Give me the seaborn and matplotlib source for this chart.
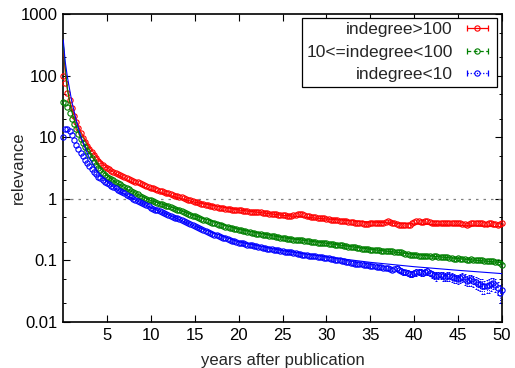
import numpy as np
import pandas as pd
import matplotlib
matplotlib.use("Agg")
import matplotlib.pyplot as plt
from matplotlib.lines import Line2D
from matplotlib.legend_handler import HandlerLine2D, HandlerTuple
from matplotlib.ticker import LogLocator, NullFormatter, FixedLocator
import seaborn as sns

# ---- sampling grid: quarterly, 0 .. 50 years after publication ----
years = np.round(0.25 * np.arange(201), 2)

# ---- mean relevance per indegree group (one value per quarter) ----
high_rel = [
    98, 76, 52, 40, 30, 22, 17.5, 14, 11.5, 9.6, 8.4, 7.3, 6.4, 5.7, 5.1, 4.6, 4.15, 3.8, 3.5, 3.25,
    3.15, 3.0, 2.85, 2.72, 2.6, 2.5, 2.42, 2.35, 2.27, 2.18, 2.1, 2.04, 1.98, 1.9, 1.84, 1.78, 1.72, 1.67, 1.62, 1.57,
    1.52, 1.48, 1.44, 1.40, 1.36, 1.33, 1.3, 1.26, 1.23, 1.2, 1.17, 1.13, 1.1, 1.08, 1.05, 1.02, 0.99, 0.96, 0.94, 0.92,
    0.9, 0.88, 0.86, 0.83, 0.81, 0.8, 0.78, 0.77, 0.76, 0.74, 0.73, 0.72, 0.71, 0.7, 0.69, 0.69, 0.68, 0.67, 0.67, 0.66,
    0.66, 0.65, 0.64, 0.64, 0.63, 0.62, 0.62, 0.61, 0.61, 0.6, 0.6, 0.59, 0.59, 0.58, 0.57, 0.57, 0.56, 0.56, 0.55, 0.55,
    0.54, 0.54, 0.53, 0.53, 0.53, 0.54, 0.55, 0.56, 0.56, 0.56, 0.55, 0.53, 0.52, 0.51, 0.5, 0.5, 0.49, 0.49, 0.48, 0.48,
    0.47, 0.47, 0.46, 0.46, 0.46, 0.45, 0.44, 0.44, 0.43, 0.43, 0.42, 0.42, 0.42, 0.41, 0.41, 0.4, 0.4, 0.39, 0.39, 0.39,
    0.4, 0.4, 0.4, 0.41, 0.41, 0.41, 0.41, 0.42, 0.43, 0.42, 0.41, 0.4, 0.39, 0.38, 0.37, 0.38, 0.38, 0.37, 0.38, 0.4,
    0.42, 0.43, 0.43, 0.42, 0.42, 0.43, 0.43, 0.42, 0.41, 0.41, 0.41, 0.4, 0.4, 0.41, 0.41, 0.4, 0.4, 0.41, 0.41, 0.4,
    0.4, 0.4, 0.39, 0.39, 0.38, 0.39, 0.4, 0.4, 0.41, 0.4, 0.4, 0.4, 0.39, 0.39, 0.4, 0.4, 0.39, 0.39, 0.38, 0.39,
    0.41,
]
mid_rel = [
    37, 36, 31, 25, 20, 16.5, 13.5, 11.3, 9.5, 8.1, 7.0, 6.0, 5.2, 4.6, 4.0, 3.6, 3.2, 2.9, 2.65, 2.42,
    2.3, 2.2, 2.1, 2.0, 1.9, 1.81, 1.72, 1.64, 1.57, 1.5, 1.43, 1.36, 1.3, 1.24, 1.18, 1.13, 1.08, 1.04, 1.0, 0.97,
    0.94, 0.91, 0.88, 0.855, 0.83, 0.81, 0.79, 0.77, 0.75, 0.73, 0.71, 0.69, 0.67, 0.65, 0.63, 0.605, 0.58, 0.565, 0.55, 0.535,
    0.52, 0.505, 0.49, 0.475, 0.46, 0.445, 0.43, 0.42, 0.41, 0.4, 0.39, 0.38, 0.37, 0.362, 0.355, 0.347, 0.34, 0.332, 0.325, 0.32,
    0.315, 0.31, 0.305, 0.298, 0.29, 0.285, 0.28, 0.275, 0.27, 0.268, 0.265, 0.262, 0.26, 0.255, 0.25, 0.248, 0.245, 0.242, 0.24, 0.235,
    0.23, 0.228, 0.225, 0.222, 0.22, 0.218, 0.215, 0.217, 0.215, 0.212, 0.21, 0.207, 0.205, 0.202, 0.2, 0.197, 0.195, 0.192, 0.19, 0.19,
    0.19, 0.188, 0.185, 0.182, 0.18, 0.179, 0.178, 0.175, 0.172, 0.17, 0.168, 0.165, 0.163, 0.162, 0.16, 0.158, 0.156, 0.155, 0.153, 0.152,
    0.15, 0.149, 0.148, 0.146, 0.145, 0.144, 0.143, 0.141, 0.14, 0.14, 0.14, 0.139, 0.137, 0.136, 0.135, 0.131, 0.128, 0.126, 0.124, 0.124,
    0.124, 0.122, 0.12, 0.12, 0.12, 0.119, 0.118, 0.116, 0.115, 0.116, 0.117, 0.115, 0.113, 0.113, 0.114, 0.112, 0.11, 0.108, 0.107, 0.107,
    0.108, 0.106, 0.105, 0.104, 0.103, 0.103, 0.104, 0.103, 0.102, 0.102, 0.103, 0.101, 0.099, 0.098, 0.097, 0.097, 0.096, 0.095, 0.094, 0.09,
    0.085,
]
low_rel = [
    10, 13.5, 13.5, 12.5, 10.8, 9.0, 7.6, 6.5, 5.6, 4.9, 4.3, 3.8, 3.4, 3.05, 2.75, 2.5, 2.3, 2.15, 2.0, 1.88,
    1.8, 1.71, 1.62, 1.54, 1.47, 1.4, 1.34, 1.28, 1.22, 1.16, 1.11, 1.06, 1.01, 0.96, 0.92, 0.88, 0.84, 0.81, 0.78, 0.75,
    0.72, 0.695, 0.67, 0.65, 0.63, 0.61, 0.59, 0.57, 0.55, 0.53, 0.51, 0.495, 0.48, 0.465, 0.45, 0.435, 0.42, 0.405, 0.39, 0.375,
    0.36, 0.348, 0.335, 0.322, 0.31, 0.3, 0.29, 0.28, 0.27, 0.262, 0.255, 0.247, 0.24, 0.235, 0.23, 0.222, 0.215, 0.21, 0.205, 0.2,
    0.195, 0.192, 0.19, 0.185, 0.18, 0.178, 0.175, 0.172, 0.17, 0.166, 0.163, 0.161, 0.16, 0.156, 0.152, 0.151, 0.15, 0.147, 0.145, 0.142,
    0.14, 0.138, 0.137, 0.136, 0.135, 0.132, 0.13, 0.128, 0.126, 0.124, 0.123, 0.121, 0.12, 0.119, 0.118, 0.116, 0.115, 0.113, 0.112, 0.111,
    0.11, 0.108, 0.106, 0.104, 0.103, 0.101, 0.1, 0.098, 0.097, 0.095, 0.094, 0.092, 0.09, 0.089, 0.088, 0.087, 0.086, 0.085, 0.084, 0.083,
    0.082, 0.081, 0.08, 0.079, 0.078, 0.077, 0.076, 0.076, 0.075, 0.072, 0.07, 0.073, 0.074, 0.071, 0.068, 0.066, 0.064, 0.062, 0.06, 0.061,
    0.062, 0.064, 0.066, 0.064, 0.063, 0.065, 0.067, 0.063, 0.06, 0.058, 0.056, 0.057, 0.058, 0.056, 0.054, 0.055, 0.056, 0.054, 0.052, 0.051,
    0.05, 0.052, 0.053, 0.05, 0.047, 0.048, 0.049, 0.046, 0.044, 0.042, 0.041, 0.039, 0.038, 0.039, 0.04, 0.042, 0.043, 0.04, 0.036, 0.03,
    0.033,
]

# standard errors of the low-indegree group in its sparse tail (38 .. 50 years)
low_err_tail = [
    0.006, 0.006, 0.006, 0.007, 0.006, 0.007, 0.007, 0.007, 0.007, 0.008,
    0.007, 0.008, 0.008, 0.007, 0.008, 0.008, 0.008, 0.008, 0.009, 0.008,
    0.008, 0.009, 0.008, 0.009, 0.009, 0.009, 0.009, 0.008, 0.009, 0.009,
    0.009, 0.01, 0.009, 0.009, 0.01, 0.009, 0.01, 0.009, 0.009, 0.01,
    0.009, 0.009, 0.01, 0.01, 0.009, 0.009, 0.009, 0.01, 0.009,
]

# ---- fitted decay curves ----
fit_years = [0.03, 0.25, 0.5, 0.75, 1, 1.5, 2, 2.5, 3, 4, 5, 6, 7.5,
             10, 12.5, 15, 20, 25, 30, 35, 40, 45, 50]
high_fit = [330, 110, 58, 40, 30, 18.5, 12.5, 9.2, 7.0, 4.5, 3.2, 2.55, 1.95,
            1.4, 1.1, 0.88, 0.66, 0.54, 0.47, 0.42, 0.39, 0.37, 0.35]
mid_fit = [330, 140, 62, 38, 26, 15, 10, 7.3, 5.5, 3.5, 2.4, 1.85, 1.38,
           0.94, 0.72, 0.53, 0.32, 0.235, 0.19, 0.152, 0.125, 0.107, 0.092]
low_fit = [380, 170, 95, 60, 38, 19, 10.5, 6.8, 4.6, 2.7, 1.9, 1.45, 1.08,
           0.72, 0.51, 0.36, 0.2, 0.144, 0.114, 0.093, 0.079, 0.069, 0.061]

labels = ["indegree>100", "10<=indegree<100", "indegree<10"]
colors = ["#ff0000", "#008000", "#0000ff"]
err_styles = ["-", (0, (3, 2)), (0, (1, 1.5))]
y_ticks = [0.01, 0.1, 1, 10, 100, 1000]
y_tick_labels = ["0.01", "0.1", "1", "10", "100", "1000"]
x_ticks = [5, 10, 15, 20, 25, 30, 35, 40, 45, 50]

data = pd.DataFrame({
    "years": np.tile(years, 3),
    "relevance": np.concatenate([high_rel, mid_rel, low_rel]),
    "group": np.repeat(labels, len(years)),
})
fits = pd.DataFrame({
    "years": np.tile(fit_years, 3),
    "relevance": np.concatenate([high_fit, mid_fit, low_fit]),
    "group": np.repeat(labels, len(fit_years)),
})

sns.set_theme(style="white")
plt.rcParams["font.family"] = ["Liberation Sans", "DejaVu Sans"]
plt.rcParams["font.size"] = 12

fig = plt.figure(figsize=(5.15, 3.68), dpi=100)
ax = fig.add_axes([63 / 515, 46 / 368, 439 / 515, 308 / 368])

# reference level
ax.axhline(1, color="#808080", lw=0.9, ls=(0, (2, 4)), zorder=1)

# mean relevance with open circles
for lab, col in zip(labels, colors):
    sub = data[data["group"] == lab]
    sns.lineplot(data=sub, x="years", y="relevance", ax=ax, estimator=None,
                 sort=False, color=col, linestyle="none", marker="o",
                 markersize=3.8, mfc="none", mec=col, mew=0.8,
                 errorbar=None, legend=False, zorder=3, clip_on=False)

# error bars of the sparse tail of the low group
tail = data[(data["group"] == labels[2]) & (data["years"] >= 38)]
eb = ax.errorbar(tail["years"], tail["relevance"], yerr=low_err_tail,
                 fmt="none", ecolor=colors[2], elinewidth=0.7, capsize=1.0,
                 capthick=0.7, zorder=2)
eb[2][0].set_linestyle((0, (1, 1.5)))

# fitted curves
for lab, col in zip(labels, colors):
    sub = fits[fits["group"] == lab]
    sns.lineplot(data=sub, x="years", y="relevance", ax=ax, estimator=None,
                 sort=False, color=col, lw=0.8, legend=False, zorder=4)

ax.set_yscale("log")
ax.set_xlim(0, 50)
ax.set_ylim(0.01, 1000)
ax.yaxis.set_major_locator(FixedLocator(y_ticks))
ax.set_yticklabels(y_tick_labels)
ax.yaxis.set_minor_locator(LogLocator(base=10, subs=(2.0, 5.0)))
ax.yaxis.set_minor_formatter(NullFormatter())
ax.set_xticks(x_ticks)
ax.set_xticklabels([str(t) for t in x_ticks])

ax.tick_params(which="both", direction="in", top=True, right=True,
               bottom=True, left=True, colors="black", labelsize=12)
ax.tick_params(which="major", length=5, width=0.8, pad=4)
ax.tick_params(which="minor", length=2.5, width=0.7)
for sp in ax.spines.values():
    sp.set_color("black")
    sp.set_linewidth(1.2)

ax.set_xlabel("years after publication", fontsize=12)
ax.set_ylabel("relevance", fontsize=12)
ax.xaxis.set_label_coords(0.5, -0.1)
ax.yaxis.set_label_coords(-0.085, 0.5)

# gnuplot-like legend keys: error-bar line with end caps and a circle in the middle
handles = []
hmap = {}
for lab, col, st in zip(labels, colors, err_styles):
    bar = Line2D([], [], color=col, lw=0.9, ls=st, marker="|",
                 markersize=5, mew=0.9)
    dot = Line2D([], [], color=col, ls="none", marker="o", markersize=3.8,
                 mfc="none", mec=col, mew=0.8)
    hmap[bar] = HandlerLine2D(numpoints=2)
    hmap[dot] = HandlerLine2D(numpoints=1)
    handles.append((bar, dot))
hmap[tuple] = HandlerTuple(ndivide=1, pad=0)
leg = ax.legend(handles, labels, handler_map=hmap, loc="upper right",
                bbox_to_anchor=(0.989, 0.987), borderaxespad=0,
                markerfirst=False, frameon=True, fancybox=False,
                framealpha=1, edgecolor="black", fontsize=12.5,
                handlelength=1.8, handletextpad=0.5, labelspacing=0.42,
                borderpad=0.25)
leg.get_frame().set_linewidth(0.9)

fig.savefig("out.png", dpi=100)
